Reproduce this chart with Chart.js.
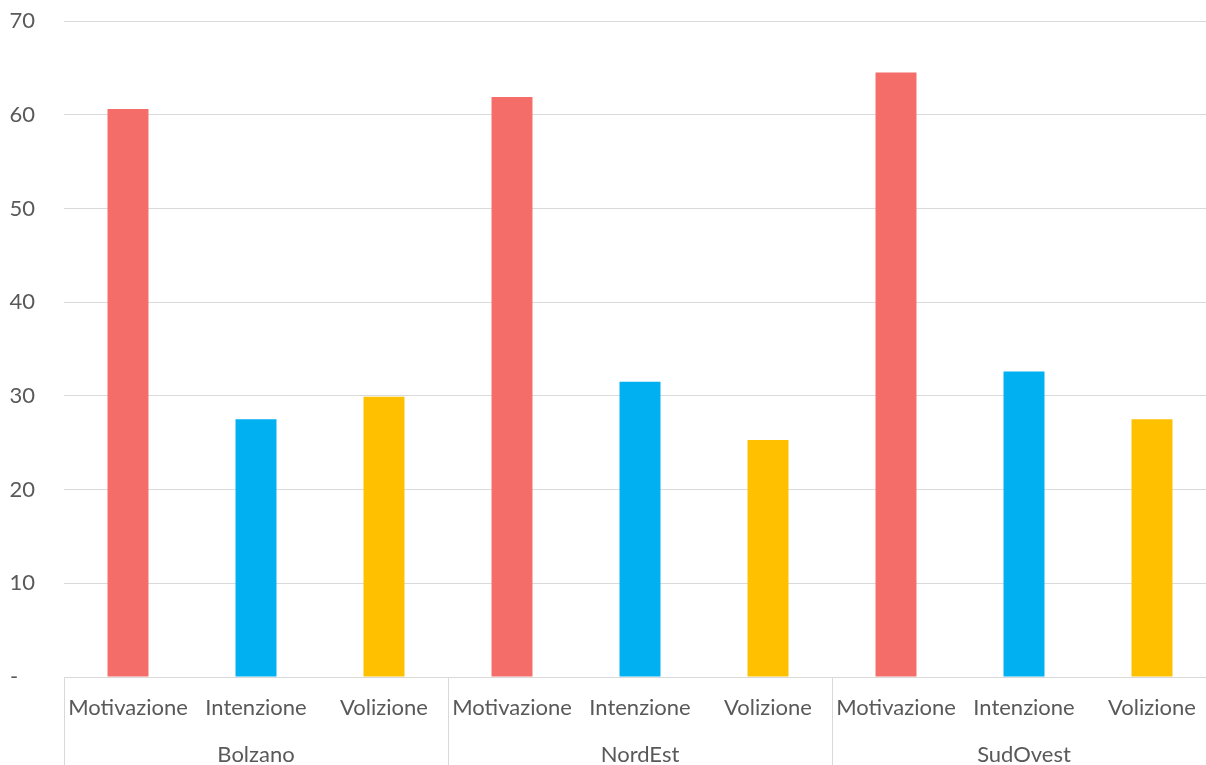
<!DOCTYPE html>
<html>
<head>
<meta charset="utf-8">
<script src="https://cdn.jsdelivr.net/npm/chart.js@4.4.0/dist/chart.umd.min.js"></script>
<style>
    html, body { margin: 0; padding: 0; background: #fff; overflow: hidden; }
    #wrap { width: 1216px; height: 765px; position: relative; }
</style>
</head>
<body>
<div id="wrap"><canvas id="barChart"></canvas></div>
<script>
// values
const groups = ['Bolzano', 'NordEst', 'SudOvest'];
const measures = ['Motivazione', 'Intenzione', 'Volizione'];
const motivazione = [60.6, 61.9, 64.5];
const intenzione = [27.5, 31.5, 32.6];
const volizione = [29.9, 25.3, 27.5];
const yTicks = [0, 10, 20, 30, 40, 50, 60, 70];

const colors = ['#F46D69', '#00B0F0', '#FFC000'];
const textColor = '#595959';
const gridColor = '#D9D9D9';

var labels = [];
var values = [];
var barColors = [];
groups.forEach((g, i) => {
    [motivazione, intenzione, volizione].forEach((serie, j) => {
        labels.push(measures[j]);
        values.push(serie[i]);
        barColors.push(colors[j]);
    });
});

// second level of the category axis: group names + separators
const groupAxis = {
    id: 'groupAxis',
    afterDraw(chart) {
        const ctx = chart.ctx;
        const x = chart.scales.x;
        const catW = (x.right - x.left) / labels.length;
        ctx.save();
        ctx.strokeStyle = gridColor;
        ctx.lineWidth = 1;
        for (let i = 0; i <= groups.length; i++) {
            const px = Math.round(x.left + i * 3 * catW) + 0.5;
            ctx.beginPath();
            ctx.moveTo(px, x.top);
            ctx.lineTo(px, chart.height);
            ctx.stroke();
        }
        ctx.fillStyle = textColor;
        ctx.font = '22px Lato';
        ctx.textAlign = 'center';
        ctx.textBaseline = 'middle';
        groups.forEach((g, i) => {
            ctx.fillText(g, x.getPixelForValue(i * 3 + 1), 755);
        });
        ctx.restore();
    }
};

const data = {
    labels: labels,
    datasets: [{
        data: values,
        backgroundColor: barColors,
        borderWidth: 0,
        barPercentage: 0.32,
        categoryPercentage: 1
    }]
};

const config = {
    type: 'bar',
    data: data,
    options: {
        responsive: true,
        maintainAspectRatio: false,
        animation: false,
        layout: {
            padding: { top: 21, right: 0, bottom: 0, left: 0 }
        },
        plugins: {
            legend: { display: false },
            tooltip: { enabled: false }
        },
        scales: {
            x: {
                grid: { display: false, drawTicks: false },
                border: { display: true, color: gridColor, width: 1 },
                ticks: {
                    color: textColor,
                    font: { family: 'Lato', size: 22 },
                    padding: 18,
                    maxRotation: 0,
                    autoSkip: false
                },
                afterFit: (scale) => { scale.height = 88; }
            },
            y: {
                min: 0,
                max: 70,
                afterBuildTicks: (scale) => {
                    scale.ticks = yTicks.map(v => ({ value: v }));
                },
                grid: { color: gridColor, lineWidth: 1, drawTicks: false },
                border: { display: false },
                ticks: {
                    color: textColor,
                    font: { family: 'Lato', size: 22 },
                    padding: 29,
                    callback: (v) => v === 0 ? '-   ' : v
                },
                afterFit: (scale) => {
                    scale.width = 64;
                    scale.paddingTop = 0;
                    scale.paddingBottom = 0;
                }
            }
        }
    },
    plugins: [groupAxis]
};

const myChart = new Chart(
    document.getElementById('barChart').getContext('2d'),
    config
);
</script>
</body>
</html>
